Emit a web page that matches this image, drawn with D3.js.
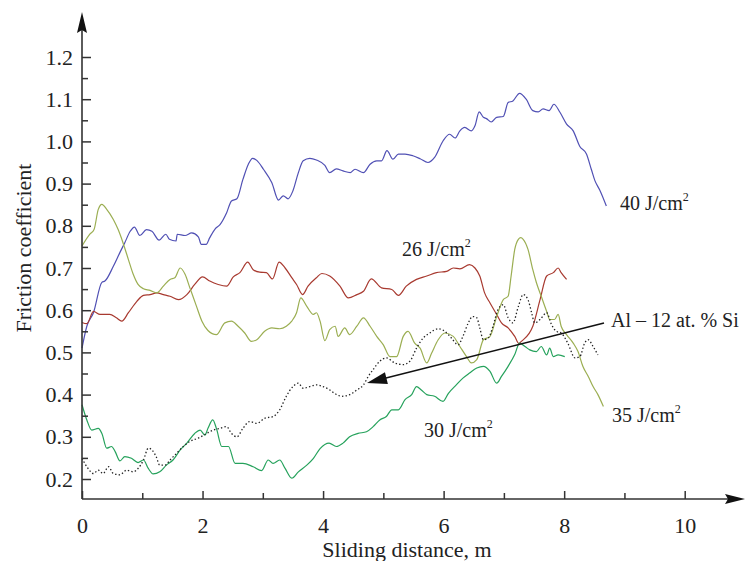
<!DOCTYPE html>
<html>
<head>
<meta charset="utf-8">
<script src="https://cdn.jsdelivr.net/npm/d3@7"></script>
<style>
  body { margin: 0; background: #fff; }
  svg text { font-family: "Liberation Serif", "Times New Roman", Tinos, "DejaVu Serif", "Noto Serif", Times, serif; fill: #222; }
</style>
</head>
<body>
<div id="chart"></div>
<script>
// sliding distance (m) and friction coefficient
const blueX = [0, 0.08, 0.19, 0.33, 0.38, 0.52, 0.63, 0.71, 0.80, 0.87, 0.96, 1.07, 1.16, 1.28, 1.39, 1.45, 1.56, 1.58, 1.71, 1.82, 1.93, 1.98, 2.06, 2.12, 2.21, 2.29, 2.40, 2.48, 2.57, 2.67, 2.76, 2.83, 2.90, 3.01, 3.15, 3.26, 3.34, 3.42, 3.50, 3.59, 3.67, 3.78, 3.89, 4.03, 4.11, 4.22, 4.33, 4.45, 4.53, 4.67, 4.78, 4.89, 4.97, 5.06, 5.16, 5.25, 5.36, 5.49, 5.61, 5.74, 5.85, 5.99, 6.10, 6.19, 6.27, 6.35, 6.46, 6.52, 6.59, 6.66, 6.71, 6.79, 6.88, 6.99, 7.07, 7.15, 7.26, 7.37, 7.48, 7.57, 7.65, 7.75, 7.83, 7.93, 8.04, 8.15, 8.26, 8.37, 8.45, 8.51, 8.59, 8.70];
const blueY = [0.51, 0.562, 0.594, 0.666, 0.669, 0.704, 0.737, 0.76, 0.787, 0.797, 0.777, 0.791, 0.787, 0.766, 0.78, 0.768, 0.764, 0.78, 0.777, 0.783, 0.774, 0.756, 0.756, 0.772, 0.793, 0.803, 0.831, 0.859, 0.864, 0.91, 0.946, 0.96, 0.955, 0.934, 0.902, 0.861, 0.871, 0.864, 0.883, 0.926, 0.954, 0.96, 0.956, 0.943, 0.926, 0.935, 0.93, 0.926, 0.934, 0.926, 0.946, 0.954, 0.954, 0.978, 0.958, 0.97, 0.97, 0.966, 0.959, 0.95, 0.962, 1.001, 1.017, 1.008, 1.025, 1.033, 1.025, 1.037, 1.07, 1.057, 1.054, 1.046, 1.057, 1.059, 1.092, 1.096, 1.114, 1.1, 1.073, 1.07, 1.077, 1.073, 1.088, 1.069, 1.041, 1.025, 0.988, 0.97, 0.934, 0.907, 0.885, 0.847];

const redX = [0, 0.08, 0.19, 0.30, 0.46, 0.57, 0.66, 0.77, 0.91, 1.02, 1.13, 1.24, 1.35, 1.46, 1.60, 1.74, 1.87, 2.00, 2.12, 2.26, 2.40, 2.51, 2.62, 2.75, 2.84, 2.95, 3.06, 3.16, 3.27, 3.37, 3.48, 3.56, 3.66, 3.75, 3.89, 3.98, 4.11, 4.28, 4.42, 4.56, 4.67, 4.80, 4.97, 5.14, 5.25, 5.38, 5.55, 5.72, 5.88, 6.05, 6.16, 6.27, 6.43, 6.52, 6.60, 6.68, 6.77, 6.88, 6.96, 7.07, 7.18, 7.25, 7.29, 7.48, 7.60, 7.71, 7.82, 7.90, 7.95, 8.04];
const redY = [0.571, 0.568, 0.597, 0.59, 0.59, 0.582, 0.574, 0.594, 0.621, 0.635, 0.637, 0.641, 0.637, 0.633, 0.625, 0.637, 0.661, 0.679, 0.669, 0.661, 0.657, 0.679, 0.689, 0.714, 0.696, 0.69, 0.689, 0.674, 0.714, 0.70, 0.677, 0.661, 0.637, 0.657, 0.677, 0.687, 0.681, 0.657, 0.629, 0.637, 0.645, 0.674, 0.653, 0.649, 0.635, 0.657, 0.673, 0.681, 0.689, 0.692, 0.70, 0.698, 0.708, 0.70, 0.681, 0.641, 0.617, 0.59, 0.57, 0.558, 0.538, 0.521, 0.526, 0.562, 0.625, 0.681, 0.689, 0.70, 0.689, 0.673];

const oliveX = [0, 0.13, 0.20, 0.27, 0.33, 0.41, 0.52, 0.60, 0.68, 0.77, 0.85, 0.93, 1.02, 1.13, 1.24, 1.35, 1.46, 1.54, 1.63, 1.71, 1.79, 1.90, 1.99, 2.09, 2.23, 2.37, 2.48, 2.59, 2.70, 2.81, 2.90, 3.03, 3.15, 3.28, 3.39, 3.48, 3.56, 3.63, 3.73, 3.84, 3.89, 3.95, 4.03, 4.11, 4.20, 4.25, 4.36, 4.44, 4.56, 4.67, 4.78, 4.89, 5.00, 5.11, 5.22, 5.33, 5.41, 5.52, 5.61, 5.72, 5.80, 5.91, 6.02, 6.16, 6.27, 6.38, 6.46, 6.55, 6.66, 6.77, 6.88, 6.99, 7.07, 7.12, 7.18, 7.24, 7.28, 7.32, 7.40, 7.48, 7.54, 7.62, 7.71, 7.76, 7.84, 7.90, 7.95, 8.04, 8.15, 8.23, 8.31, 8.40, 8.48, 8.56, 8.65];
const oliveY = [0.752, 0.78, 0.791, 0.839, 0.851, 0.839, 0.815, 0.791, 0.76, 0.72, 0.685, 0.661, 0.651, 0.647, 0.641, 0.657, 0.673, 0.677, 0.70, 0.685, 0.653, 0.609, 0.574, 0.552, 0.542, 0.57, 0.574, 0.562, 0.546, 0.526, 0.53, 0.55, 0.558, 0.556, 0.562, 0.574, 0.594, 0.629, 0.609, 0.59, 0.594, 0.574, 0.528, 0.554, 0.562, 0.538, 0.558, 0.542, 0.562, 0.582, 0.562, 0.538, 0.518, 0.49, 0.49, 0.538, 0.55, 0.522, 0.51, 0.475, 0.498, 0.53, 0.546, 0.538, 0.514, 0.49, 0.475, 0.483, 0.53, 0.538, 0.585, 0.625, 0.633, 0.681, 0.744, 0.768, 0.772, 0.768, 0.744, 0.696, 0.665, 0.633, 0.597, 0.578, 0.578, 0.59, 0.562, 0.542, 0.522, 0.502, 0.467, 0.443, 0.419, 0.40, 0.372];

const greenX = [0, 0.08, 0.16, 0.27, 0.33, 0.41, 0.49, 0.55, 0.63, 0.71, 0.82, 0.93, 1.02, 1.10, 1.18, 1.29, 1.40, 1.51, 1.63, 1.74, 1.87, 1.96, 2.04, 2.09, 2.17, 2.23, 2.32, 2.43, 2.54, 2.67, 2.84, 2.98, 3.09, 3.17, 3.28, 3.37, 3.48, 3.59, 3.73, 3.84, 3.95, 4.10, 4.22, 4.33, 4.44, 4.58, 4.72, 4.83, 4.94, 5.05, 5.14, 5.25, 5.36, 5.47, 5.55, 5.63, 5.72, 5.85, 5.99, 6.08, 6.21, 6.32, 6.43, 6.55, 6.66, 6.77, 6.88, 6.96, 7.07, 7.18, 7.26, 7.35, 7.43, 7.54, 7.62, 7.71, 7.76, 7.82, 7.90, 8.01];
const greenY = [0.376, 0.34, 0.316, 0.32, 0.308, 0.273, 0.277, 0.265, 0.243, 0.253, 0.249, 0.239, 0.245, 0.225, 0.212, 0.217, 0.233, 0.245, 0.269, 0.285, 0.308, 0.316, 0.304, 0.32, 0.34, 0.32, 0.277, 0.277, 0.237, 0.237, 0.229, 0.22, 0.245, 0.237, 0.245, 0.225, 0.202, 0.217, 0.233, 0.249, 0.272, 0.285, 0.277, 0.285, 0.30, 0.308, 0.312, 0.324, 0.34, 0.348, 0.364, 0.364, 0.388, 0.40, 0.419, 0.411, 0.40, 0.396, 0.384, 0.403, 0.423, 0.439, 0.451, 0.463, 0.467, 0.455, 0.427, 0.443, 0.467, 0.495, 0.522, 0.514, 0.506, 0.502, 0.514, 0.494, 0.51, 0.49, 0.494, 0.49];

const alsiX = [0, 0.10, 0.19, 0.27, 0.35, 0.44, 0.52, 0.63, 0.74, 0.85, 0.93, 1.02, 1.10, 1.16, 1.23, 1.29, 1.38, 1.46, 1.57, 1.68, 1.79, 1.93, 2.07, 2.18, 2.29, 2.40, 2.48, 2.57, 2.67, 2.78, 2.90, 3.03, 3.17, 3.28, 3.39, 3.50, 3.59, 3.67, 3.78, 3.89, 4.00, 4.10, 4.19, 4.31, 4.44, 4.56, 4.67, 4.75, 4.83, 4.94, 5.05, 5.19, 5.33, 5.44, 5.55, 5.66, 5.77, 5.91, 6.02, 6.13, 6.24, 6.32, 6.41, 6.48, 6.55, 6.60, 6.66, 6.74, 6.82, 6.90, 6.99, 7.07, 7.15, 7.24, 7.32, 7.40, 7.46, 7.51, 7.60, 7.71, 7.79, 7.87, 7.95, 8.06, 8.18, 8.26, 8.34, 8.40, 8.48, 8.56];
const alsiY = [0.249, 0.225, 0.213, 0.221, 0.213, 0.229, 0.213, 0.21, 0.221, 0.217, 0.225, 0.245, 0.273, 0.269, 0.253, 0.233, 0.233, 0.245, 0.261, 0.277, 0.289, 0.297, 0.308, 0.316, 0.32, 0.324, 0.308, 0.30, 0.32, 0.336, 0.332, 0.344, 0.348, 0.364, 0.396, 0.419, 0.427, 0.415, 0.419, 0.423, 0.419, 0.412, 0.403, 0.396, 0.40, 0.411, 0.423, 0.443, 0.459, 0.479, 0.487, 0.475, 0.471, 0.479, 0.51, 0.534, 0.546, 0.556, 0.55, 0.534, 0.518, 0.538, 0.57, 0.585, 0.582, 0.558, 0.53, 0.534, 0.562, 0.601, 0.613, 0.582, 0.57, 0.609, 0.637, 0.625, 0.594, 0.57, 0.578, 0.594, 0.566, 0.55, 0.546, 0.522, 0.487, 0.49, 0.522, 0.53, 0.514, 0.494];

const xTicks = [0, 2, 4, 6, 8, 10];
const xMinor = [1, 3, 5, 7, 9];
const yTicks = [0.2, 0.3, 0.4, 0.5, 0.6, 0.7, 0.8, 0.9, 1.0, 1.1, 1.2];
const yMinor = [0.25, 0.35, 0.45, 0.55, 0.65, 0.75, 0.85, 0.95, 1.05, 1.15];

const width = 746, height = 561;
const axisColor = "#333";
const serif = "'Liberation Serif', 'Times New Roman', Tinos, 'DejaVu Serif', 'Noto Serif', Times, serif";

const svg = d3.select("#chart")
  .append("svg")
  .attr("width", width)
  .attr("height", height)
  .attr("font-family", serif);

const x = d3.scaleLinear().domain([0, 10]).range([82, 684.7]);
const y = d3.scaleLinear().domain([0.2, 1.2]).range([479, 57]);
const y0 = 499; // where the x axis sits

// curves
const series = [
  { xs: blueX, ys: blueY, color: "#5050b4", dash: null },
  { xs: redX, ys: redY, color: "#a83a30", dash: null },
  { xs: oliveX, ys: oliveY, color: "#9bae52", dash: null },
  { xs: greenX, ys: greenY, color: "#26a25c", dash: null },
  { xs: alsiX, ys: alsiY, color: "#222", dash: "1.4 2.2" }
];

const line = d3.line()
  .x(d => x(d[0]))
  .y(d => y(d[1]))
  .curve(d3.curveMonotoneX);

series.forEach(s => {
  svg.append("path")
    .datum(d3.zip(s.xs, s.ys))
    .attr("fill", "none")
    .attr("stroke", s.color)
    .attr("stroke-width", s.dash ? 1.3 : 1.2)
    .attr("stroke-dasharray", s.dash)
    .attr("d", line);
});

// y axis
const gy = svg.append("g").attr("transform", "translate(82,0)");
gy.call(d3.axisLeft(y).tickValues(yTicks).tickSize(-9).tickPadding(9).tickFormat(d3.format(".1f")));
const gyMinor = svg.append("g").attr("transform", "translate(82,0)");
gyMinor.call(d3.axisLeft(y).tickValues(yMinor).tickSize(-6).tickFormat(""));

// x axis
const gx = svg.append("g").attr("transform", `translate(0,${y0})`);
gx.call(d3.axisBottom(x).tickValues(xTicks).tickSize(-8).tickPadding(14).tickFormat(d3.format("d")));
const gxMinor = svg.append("g").attr("transform", `translate(0,${y0})`);
gxMinor.call(d3.axisBottom(x).tickValues(xMinor).tickSize(-6).tickFormat(""));

[gy, gyMinor, gx, gxMinor].forEach(g => {
  g.attr("font-family", serif);
  g.select(".domain").remove();
  g.selectAll("line").attr("stroke", axisColor).attr("stroke-width", 1.5);
  g.selectAll("text").attr("font-size", 22).attr("fill", "#222");
});
gx.selectAll("text").attr("dy", "0.9em");

// axis lines with arrows
svg.append("line")
  .attr("x1", 82).attr("y1", y0).attr("x2", 82).attr("y2", 28)
  .attr("stroke", axisColor).attr("stroke-width", 1.6);
svg.append("path")
  .attr("d", "M82,12 L87,33 L82,30 L77,33 Z")
  .attr("fill", "#111");

svg.append("line")
  .attr("x1", 82).attr("y1", y0).attr("x2", 730).attr("y2", y0)
  .attr("stroke", axisColor).attr("stroke-width", 1.6);
svg.append("path")
  .attr("d", `M745,${y0} L725,${y0 - 5} L728,${y0} L725,${y0 + 5} Z`)
  .attr("fill", "#111");

// axis titles
svg.append("text")
  .attr("x", 407).attr("y", 557)
  .attr("text-anchor", "middle")
  .attr("font-size", 22)
  .text("Sliding distance, m");

svg.append("text")
  .attr("transform", "translate(31,248) rotate(-90)")
  .attr("text-anchor", "middle")
  .attr("font-size", 22)
  .text("Friction coefficient");

// curve labels
const labels = [
  { text: "40 J/cm", x: 620, y: 210 },
  { text: "26 J/cm", x: 402, y: 256 },
  { text: "35 J/cm", x: 612, y: 422 },
  { text: "30 J/cm", x: 424, y: 437 }
];
labels.forEach(l => {
  const t = svg.append("text")
    .attr("x", l.x).attr("y", l.y)
    .attr("font-size", 20);
  t.append("tspan").text(l.text);
  t.append("tspan").attr("font-size", 12).attr("dy", -9).text("2");
});

svg.append("text")
  .attr("x", 611).attr("y", 327)
  .attr("font-size", 20)
  .text("Al – 12 at. % Si");

// pointer arrow to the Al-Si curve
svg.append("line")
  .attr("x1", 604).attr("y1", 323).attr("x2", 382).attr("y2", 379)
  .attr("stroke", "#111").attr("stroke-width", 1.5);
const ang = Math.atan2(383 - 323, 367 - 604);
const tipX = 367, tipY = 383, len = 20, half = 6;
const bx = tipX - len * Math.cos(ang), by = tipY - len * Math.sin(ang);
const px = -Math.sin(ang) * half, py = Math.cos(ang) * half;
svg.append("path")
  .attr("d", `M${tipX},${tipY} L${bx + px},${by + py} L${bx - px},${by - py} Z`)
  .attr("fill", "#111");
</script>
</body>
</html>
